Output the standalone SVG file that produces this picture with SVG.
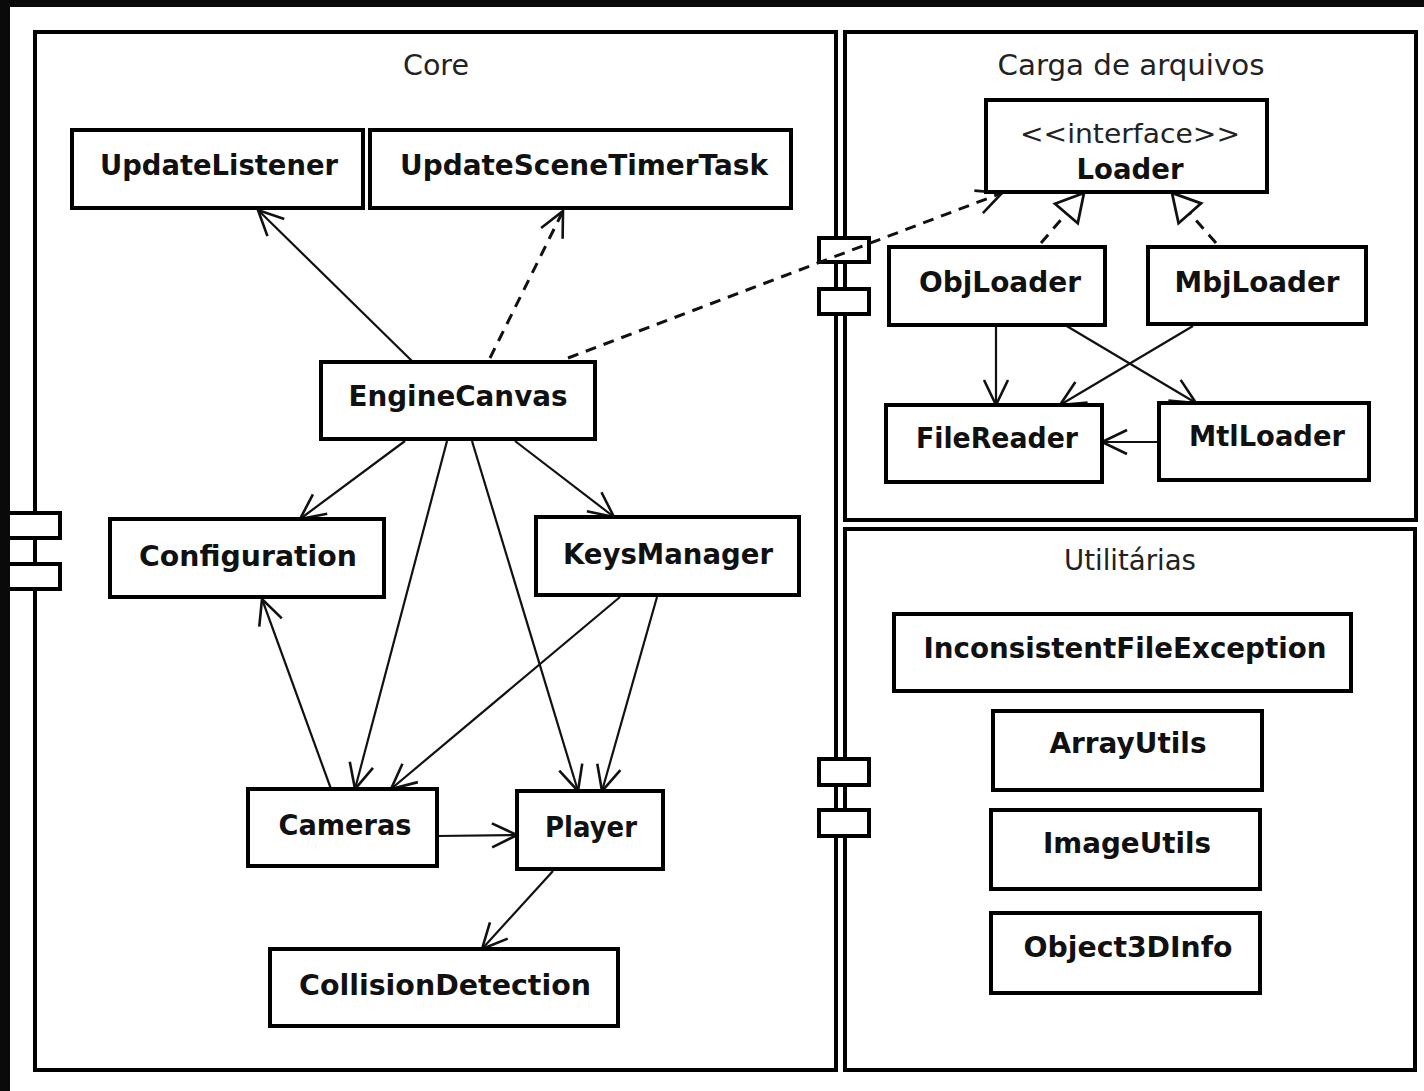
<svg xmlns="http://www.w3.org/2000/svg" width="1424" height="1091" viewBox="0 0 1424 1091">
<style>
.pkg{fill:#fff;stroke:#000;stroke-width:4}
.box{fill:#fff;stroke:#000;stroke-width:4}
.port{fill:#fff;stroke:#000;stroke-width:4}
.lbl{font-family:"DejaVu Sans","Liberation Sans",sans-serif;font-weight:bold;font-size:29px;fill:#111;text-anchor:middle}
.ttl{font-family:"DejaVu Sans","Liberation Sans",sans-serif;font-size:29px;fill:#222;text-anchor:middle}
.st{font-family:"DejaVu Sans","Liberation Sans",sans-serif;font-size:27px;fill:#222;text-anchor:middle}
.c{fill:none;stroke:#111;stroke-width:2.2}
.d{fill:none;stroke:#111;stroke-width:3;stroke-dasharray:11 8}
</style>
<defs>
<marker id="open" markerUnits="userSpaceOnUse" markerWidth="40" markerHeight="40" viewBox="-30 -20 34 40" refX="0" refY="0" orient="auto" overflow="visible">
<path d="M-25,-12 L0,0 L-25,12" fill="none" stroke="#111" stroke-width="2.6"/>
</marker>
<marker id="tri" markerUnits="userSpaceOnUse" markerWidth="40" markerHeight="40" viewBox="-30 -20 34 40" refX="0" refY="0" orient="auto" overflow="visible">
<path d="M-27,-15 L0,0 L-27,15 Z" fill="#fff" stroke="#111" stroke-width="2.8"/>
</marker>
</defs>
<rect x="0" y="0" width="1424" height="1091" fill="#0a0a0a"/>
<rect x="10" y="7" width="1414" height="1084" fill="#fff"/>

<g id="pkg-core">
<rect class="pkg" x="35" y="32" width="801" height="1038"/>
<text class="ttl" x="436" y="75" textLength="66" lengthAdjust="spacingAndGlyphs">Core</text>
<rect class="port" x="-5" y="513" width="65" height="25"/>
<rect class="port" x="-5" y="564" width="65" height="25"/>
</g>
<g id="pkg-carga">
<rect class="pkg" x="845" y="32" width="571" height="488"/>
<text class="ttl" x="1131" y="75" textLength="267" lengthAdjust="spacingAndGlyphs">Carga de arquivos</text>
<rect class="port" x="819" y="238" width="50" height="24"/>
<rect class="port" x="819" y="289" width="50" height="25"/>
</g>
<g id="pkg-util">
<rect class="pkg" x="845" y="529" width="570" height="541"/>
<text class="ttl" x="1130" y="570" textLength="132" lengthAdjust="spacingAndGlyphs">Utilitárias</text>
<rect class="port" x="819" y="759" width="50" height="26"/>
<rect class="port" x="819" y="810" width="50" height="26"/>
</g>
<rect x="0" y="0" width="10" height="1091" fill="#0a0a0a"/>

<g id="connectors">
<line class="c" x1="413" y1="362" x2="258" y2="210" marker-end="url(#open)"/>
<line class="d" x1="490" y1="358" x2="563" y2="211" marker-end="url(#open)"/>
<line class="d" x1="568" y1="358" x2="1002" y2="193" marker-end="url(#open)"/>
<line class="d" x1="1041" y1="243" x2="1084" y2="193" marker-end="url(#tri)"/>
<line class="d" x1="1216" y1="243" x2="1172" y2="193" marker-end="url(#tri)"/>
<line class="c" x1="996" y1="325" x2="996" y2="405" marker-end="url(#open)"/>
<line class="c" x1="1065" y1="325" x2="1196" y2="403" marker-end="url(#open)"/>
<line class="c" x1="1193" y1="326" x2="1060" y2="405" marker-end="url(#open)"/>
<line class="c" x1="1159" y1="442" x2="1102" y2="442" marker-end="url(#open)"/>
<line class="c" x1="405" y1="441" x2="300" y2="519" marker-end="url(#open)"/>
<line class="c" x1="447" y1="441" x2="355" y2="789" marker-end="url(#open)"/>
<line class="c" x1="472" y1="441" x2="578" y2="791" marker-end="url(#open)"/>
<line class="c" x1="515" y1="441" x2="614" y2="517" marker-end="url(#open)"/>
<line class="c" x1="331" y1="789" x2="262" y2="599" marker-end="url(#open)"/>
<line class="c" x1="620" y1="597" x2="391" y2="789" marker-end="url(#open)"/>
<line class="c" x1="657" y1="597" x2="602" y2="791" marker-end="url(#open)"/>
<line class="c" x1="437" y1="836" x2="517" y2="835" marker-end="url(#open)"/>
<line class="c" x1="553" y1="871" x2="482" y2="949" marker-end="url(#open)"/>
</g>

<g id="n-updatelistener"><rect class="box" x="72" y="130" width="291" height="78"/><text class="lbl" x="219" y="175" textLength="238" lengthAdjust="spacingAndGlyphs">UpdateListener</text></g>
<g id="n-updatescenetimertask"><rect class="box" x="370" y="130" width="421" height="78"/><text class="lbl" x="584" y="175" textLength="368" lengthAdjust="spacingAndGlyphs">UpdateSceneTimerTask</text></g>
<g id="n-enginecanvas"><rect class="box" x="321" y="362" width="274" height="77"/><text class="lbl" x="458" y="406" textLength="219" lengthAdjust="spacingAndGlyphs">EngineCanvas</text></g>
<g id="n-configuration"><rect class="box" x="110" y="519" width="274" height="78"/><text class="lbl" x="248" y="566" textLength="218" lengthAdjust="spacingAndGlyphs">Configuration</text></g>
<g id="n-keysmanager"><rect class="box" x="536" y="517" width="263" height="78"/><text class="lbl" x="668" y="564" textLength="210" lengthAdjust="spacingAndGlyphs">KeysManager</text></g>
<g id="n-cameras"><rect class="box" x="248" y="789" width="189" height="77"/><text class="lbl" x="345" y="835" textLength="133" lengthAdjust="spacingAndGlyphs">Cameras</text></g>
<g id="n-player"><rect class="box" x="517" y="791" width="146" height="78"/><text class="lbl" x="591" y="837" textLength="92" lengthAdjust="spacingAndGlyphs">Player</text></g>
<g id="n-collisiondetection"><rect class="box" x="270" y="949" width="348" height="77"/><text class="lbl" x="445" y="995" textLength="292" lengthAdjust="spacingAndGlyphs">CollisionDetection</text></g>

<g id="n-loader"><rect class="box" x="986" y="100" width="281" height="92"/><text class="st" x="1130" y="143" textLength="220" lengthAdjust="spacingAndGlyphs">&lt;&lt;interface&gt;&gt;</text><text class="lbl" x="1130" y="179" textLength="107" lengthAdjust="spacingAndGlyphs">Loader</text></g>
<g id="n-objloader"><rect class="box" x="889" y="247" width="216" height="78"/><text class="lbl" x="1000" y="292" textLength="162" lengthAdjust="spacingAndGlyphs">ObjLoader</text></g>
<g id="n-mbjloader"><rect class="box" x="1148" y="247" width="218" height="77"/><text class="lbl" x="1257" y="292" textLength="165" lengthAdjust="spacingAndGlyphs">MbjLoader</text></g>
<g id="n-filereader"><rect class="box" x="886" y="405" width="216" height="77"/><text class="lbl" x="997" y="448" textLength="162" lengthAdjust="spacingAndGlyphs">FileReader</text></g>
<g id="n-mtlloader"><rect class="box" x="1159" y="403" width="210" height="77"/><text class="lbl" x="1267" y="446" textLength="156" lengthAdjust="spacingAndGlyphs">MtlLoader</text></g>

<g id="n-inconsistentfileexception"><rect class="box" x="894" y="614" width="457" height="77"/><text class="lbl" x="1125" y="658" textLength="403" lengthAdjust="spacingAndGlyphs">InconsistentFileException</text></g>
<g id="n-arrayutils"><rect class="box" x="993" y="711" width="269" height="79"/><text class="lbl" x="1128" y="753" textLength="157" lengthAdjust="spacingAndGlyphs">ArrayUtils</text></g>
<g id="n-imageutils"><rect class="box" x="991" y="810" width="269" height="79"/><text class="lbl" x="1127" y="853" textLength="168" lengthAdjust="spacingAndGlyphs">ImageUtils</text></g>
<g id="n-object3dinfo"><rect class="box" x="991" y="913" width="269" height="80"/><text class="lbl" x="1128" y="957" textLength="209" lengthAdjust="spacingAndGlyphs">Object3DInfo</text></g>
</svg>
